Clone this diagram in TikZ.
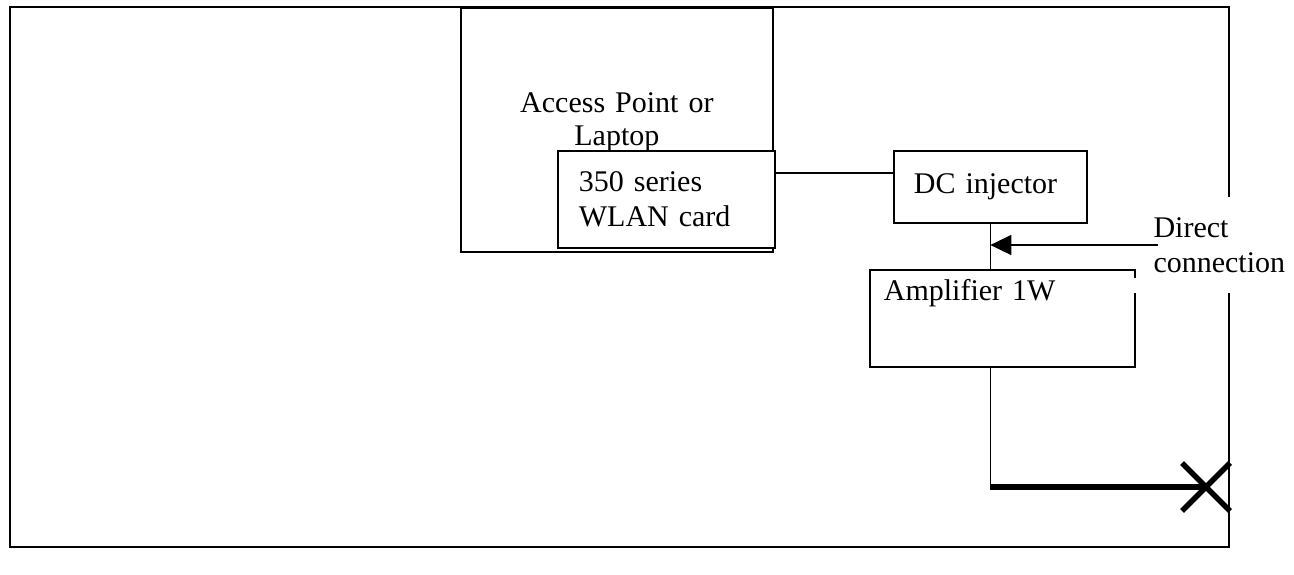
\documentclass[tikz,border=0pt]{standalone}
\usepackage{fontspec}
\setmainfont{Liberation Serif}
\usetikzlibrary{arrows.meta}

\begin{document}
\begin{tikzpicture}[
		x=0.4pt, y=-0.4pt,
		every node/.style = {font=\fontsize{12}{13.8}\selectfont},
		box/.style = {shape=rectangle, draw, line width=0.7pt,
				fill=white, align=left, anchor=north west},
		wire/.style = {line width=0.7pt},
		feed/.style = {line width=2.2pt}
	]

	\useasboundingbox (0,0) rectangle (1294,574);
	\draw[wire] (1229,197) -- (1229,7) -- (10,7) -- (10,547) -- (1229,547) -- (1229,293);

	\node[box, align=center, font=\fontsize{12}{13.2}\selectfont, inner xsep=0pt, text width=124.8pt,
		inner ysep=0pt, text height=42pt, text depth=55.6pt] (ap) at (460,7) {Access Point or\\Laptop};
	\node[box, minimum width=86.8pt, minimum height=38.8pt,
		inner xsep=8.4pt, text width=70pt] (wlan) at (557,150) {350 series\\WLAN card};
	\node[box, minimum width=77.2pt, minimum height=28.8pt,
		inner xsep=8pt, text width=61.2pt] (dc) at (893,150) {DC injector};
	\node[box, draw=none, inner xsep=5.2pt, text width=94.8pt,
		inner ysep=0pt, text height=12pt, text depth=26pt] (amp) at (870,270) {Amplifier 1W};
	\node[anchor=west, align=left, inner sep=0pt] (dcon) at (1153,245) {Direct\\connection};
	\coordinate (ant) at (1206,487);

	\draw[wire] ([yshift=-9.2pt]amp.north east) -- (amp.south east) -- (amp.south west)
		-- (amp.north west) -- (amp.north east) -- ([yshift=-3.2pt]amp.north east);
	\draw[wire] (wlan.east |- 0,173) -- (dc.west |- 0,173);
	\draw[wire] (dc.south) -- (dc.south |- amp.north);
	\draw[wire, -{Triangle[length=8.4pt, width=8pt]}] ([xshift=2pt]dcon.west) -- (dcon.west -| dc.south);
	\draw[wire] (dc.south |- amp.south) -- (dc.south |- ant);
	\draw[feed] (dc.south |- ant) -- (ant);
	\draw[feed] (ant) +(-24,-24) -- +(24,24) +(-24,24) -- +(24,-24);
\end{tikzpicture}
\end{document}
